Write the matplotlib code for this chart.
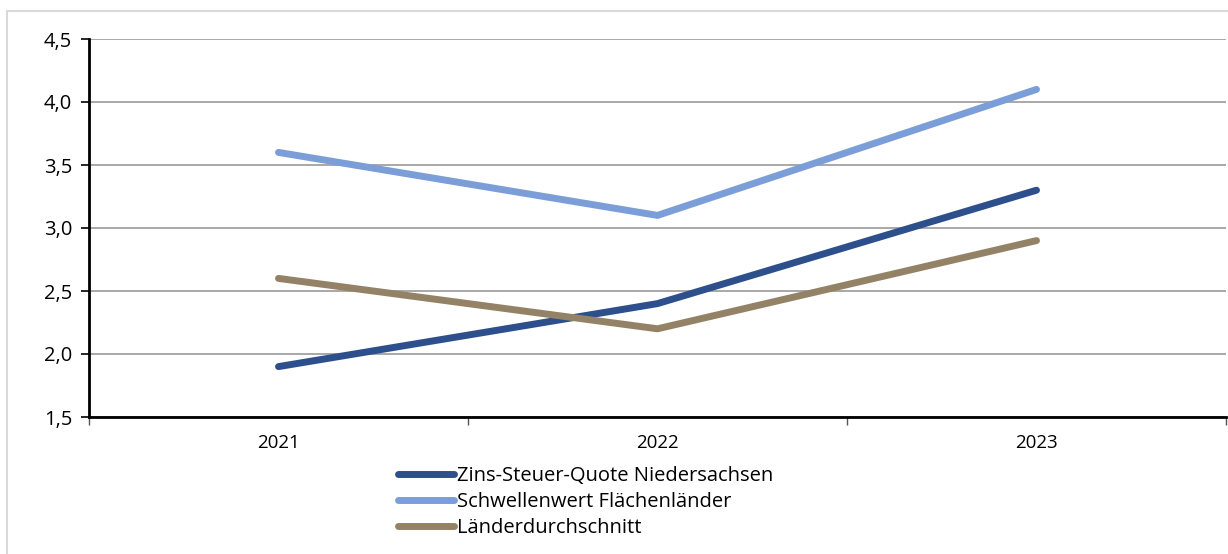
import matplotlib.pyplot as plt
from matplotlib.patches import Rectangle

years = ['2021', '2022', '2023']
zins_steuer = [1.9, 2.4, 3.3]
schwellenwert = [3.6, 3.1, 4.1]
durchschnitt = [2.6, 2.2, 2.9]
labels = ['Zins-Steuer-Quote Niedersachsen', 'Schwellenwert Flächenländer', 'Länderdurchschnitt']
colors = ['#2d4f8c', '#7b9ed8', '#948267']
yticks = [1.5, 2.0, 2.5, 3.0, 3.5, 4.0, 4.5]

plt.rcParams['font.family'] = ['Open Sans', 'DejaVu Sans']

fig = plt.figure(figsize=(12.28, 5.54), dpi=100)
ax = fig.add_axes([89/1228, 1-417/554, (1226-89)/1228, (417-39)/554])

# light frame round the whole chart
fig.patches.append(Rectangle((7/1228, -0.01), 1.0, 1-11/554+0.01, transform=fig.transFigure,
                             fill=False, edgecolor='#d9d9d9', linewidth=1.5))

x = [0.5, 1.5, 2.5]
for vals, lab, c in zip([zins_steuer, schwellenwert, durchschnitt], labels, colors):
    ax.plot(x, vals, color=c, linewidth=5, solid_capstyle='round', label=lab, zorder=3)

ax.set_xlim(0, 3)
ax.set_ylim(1.5, 4.5)
ax.set_yticks(yticks)
ax.set_yticklabels([f'{v:.1f}'.replace('.', ',') for v in yticks], fontsize=14.5)
ax.set_xticks([0, 1, 2, 3])
ax.set_xticklabels([])
ax.set_xticks(x, minor=True)
ax.set_xticklabels(years, minor=True, fontsize=13.5)
ax.tick_params(axis='x', which='minor', length=0, pad=12)
ax.tick_params(axis='x', which='major', length=6, width=1, color='#555555', direction='out')
ax.tick_params(axis='y', length=6, width=1.2, pad=6)
ax.grid(axis='y', color='#999999', linewidth=1.2)
ax.set_axisbelow(True)
for s in ['top', 'right']:
    ax.spines[s].set_visible(False)
ax.spines['left'].set_linewidth(2)
ax.spines['bottom'].set_linewidth(2)

fig.legend(loc='upper left', bbox_to_anchor=(398/1228, 1-466/554), frameon=False,
           fontsize=14.5, handlelength=2.8, handletextpad=0.15, labelspacing=0.3,
           borderpad=0, borderaxespad=0)

plt.savefig('out.png', dpi=100)
